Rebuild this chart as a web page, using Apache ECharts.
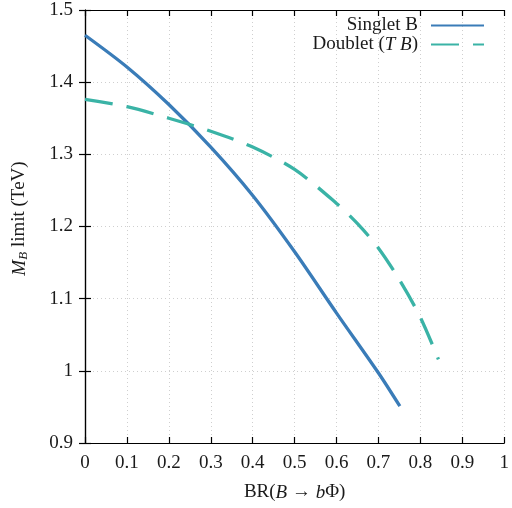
<!DOCTYPE html>
<html>
<head>
<meta charset="utf-8">
<script src="https://cdn.jsdelivr.net/npm/echarts@6/dist/echarts.min.js"></script>
<style>html,body{margin:0;padding:0;background:#fff}#c{width:512px;height:508px}</style>
</head>
<body>
<div id="c"></div>
<script>
const xTicks = [0, 0.1, 0.2, 0.3, 0.4, 0.5, 0.6, 0.7, 0.8, 0.9, 1];
const yTicks = [0.9, 1, 1.1, 1.2, 1.3, 1.4, 1.5];
const singletX = [0, 0.1, 0.2, 0.3, 0.4, 0.5, 0.6, 0.7, 0.751];
const singletY = [1.465, 1.421, 1.369, 1.310, 1.243, 1.165, 1.080, 0.997, 0.951];
const doubletX = [0, 0.1, 0.2, 0.3, 0.4, 0.5, 0.6, 0.65, 0.7, 0.75, 0.8, 0.843];
const doubletY = [1.376, 1.366, 1.350, 1.332, 1.310, 1.279, 1.232, 1.204, 1.170, 1.126, 1.074, 1.016];
const seriesNames = ['Singlet B', 'Doublet (T B)'];

const FONT = 'Liberation Serif';
const FS = 19;
const TXT = '#1a1a1a';
const chart = echarts.init(document.getElementById('c'), null, {renderer: 'canvas'});
const pairs = (xs, ys) => xs.map((x, i) => [x, ys[i]]);
const grid = {left: 85, right: 3, top: 10, bottom: 65};
const gridLine = {show: true, lineStyle: {color: '#cfcfcf', type: [1, 3], width: 1}};
const axisLineStyle = {show: true, lineStyle: {color: '#000', width: 1.2}};
const tick = {show: true, inside: true, length: 6, lineStyle: {color: '#000', width: 1.2}};
const ital = {fontFamily: FONT, fontSize: FS, fontStyle: 'italic', color: TXT};

chart.setOption({
  animation: false,
  backgroundColor: '#fff',
  grid: grid,
  legend: {
    data: seriesNames,
    orient: 'vertical',
    right: 27,
    top: 16,
    padding: 0,
    align: 'right',
    itemWidth: 53,
    itemHeight: 12,
    itemGap: 0,
    itemStyle: {opacity: 0},
    textStyle: {fontFamily: FONT, fontSize: FS, color: TXT, padding: [0, 8, 0, 0], rich: {i: ital}},
    formatter: n => n === 'Doublet (T B)' ? 'Doublet ({i|T B})' : n
  },
  xAxis: [{
    type: 'value', min: 0, max: 1, interval: 0.1, position: 'bottom',
    axisLine: axisLineStyle, axisTick: tick, splitLine: gridLine,
    axisLabel: {fontFamily: FONT, fontSize: FS, color: TXT, margin: 11,
      formatter: v => { const t = xTicks.find(k => Math.abs(k - v) < 1e-9); return t === undefined ? '' : String(t); }},
    name: 'BR({i|B} → {i|b}Φ)', nameLocation: 'middle', nameGap: 40,
    nameTextStyle: {fontFamily: FONT, fontSize: FS, color: TXT, rich: {i: ital}}
  }, {
    type: 'value', min: 0, max: 1, interval: 0.1, position: 'top',
    axisLine: axisLineStyle, axisTick: tick, splitLine: {show: false}, axisLabel: {show: false}
  }],
  yAxis: [{
    type: 'value', min: 0.9, max: 1.5, interval: 0.1, position: 'left',
    axisLine: axisLineStyle, axisTick: tick, splitLine: gridLine,
    axisLabel: {fontFamily: FONT, fontSize: FS, color: TXT, margin: 12,
      formatter: v => { const t = yTicks.find(k => Math.abs(k - v) < 1e-9); return t === undefined ? '' : String(t); }},
    name: '{i|M}{s|B} limit (TeV)', nameLocation: 'middle', nameGap: 55, nameRotate: 90,
    nameTextStyle: {fontFamily: FONT, fontSize: FS, color: TXT, padding: [0, 0, 0, 16],
      rich: {i: ital,
             s: {fontFamily: FONT, fontSize: 13, fontStyle: 'italic', color: TXT, padding: [8, 0, 0, 0]}}}
  }, {
    type: 'value', min: 0.9, max: 1.5, interval: 0.1, position: 'right',
    axisLine: axisLineStyle, axisTick: tick, splitLine: {show: false}, axisLabel: {show: false}
  }],
  series: [{
    name: seriesNames[0], type: 'line', data: pairs(singletX, singletY),
    showSymbol: false, symbol: 'none', smooth: 0.3,
    lineStyle: {color: '#3a7cb8', width: 3.3}, itemStyle: {color: '#3a7cb8'}
  }, {
    name: seriesNames[1], type: 'line', data: pairs(doubletX, doubletY),
    showSymbol: false, symbol: 'none', smooth: 0.3,
    lineStyle: {color: '#3ab3a6', width: 3.3, type: [28, 14]}, itemStyle: {color: '#3ab3a6'}
  }]
});
</script>
</body>
</html>
